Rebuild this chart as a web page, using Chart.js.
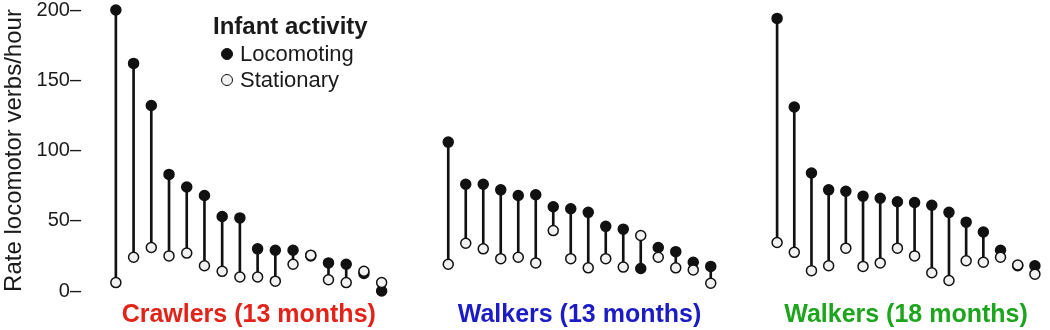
<!DOCTYPE html>
<html>
<head>
<meta charset="utf-8">
<script src="https://cdn.jsdelivr.net/npm/chart.js@4/dist/chart.umd.min.js"></script>
<style>
    body { margin: 0; background: #fff; }
    #wrap { position: relative; width: 1050px; height: 330px; font-family: 'Liberation Sans', Arial, sans-serif; color: #1a1a1a; }
    .panel { position: absolute; top: 0; height: 330px; }
    .legend { position: absolute; left: 213px; top: 11px; }
    .legend-title { font-weight: bold; font-size: 24px; line-height: 30px; }
    .legend-item { position: relative; font-size: 22px; line-height: 26px; padding-left: 27px; }
    .legend-item .dot { position: absolute; left: 8px; top: 7px; width: 10px; height: 10px; border-radius: 50%; border: 1.5px solid #111; }
</style>
</head>
<body>
<div id="wrap">
    <div class="panel" style="left:0;width:397px"><canvas id="chart-crawlers13"></canvas></div>
    <div class="panel" style="left:433px;width:293px"><canvas id="chart-walkers13"></canvas></div>
    <div class="panel" style="left:762px;width:288px"><canvas id="chart-walkers18"></canvas></div>
    <div class="legend">
        <div class="legend-title">Infant activity</div>
        <div class="legend-item"><span class="dot" style="background:#111"></span>Locomoting</div>
        <div class="legend-item"><span class="dot" style="background:#f2f2f2"></span>Stationary</div>
    </div>
</div>
<script>
// Data (rate of locomotor verbs per hour, one entry per infant)
const infants = ['1', '2', '3', '4', '5', '6', '7', '8', '9', '10', '11', '12', '13', '14', '15', '16'];
const yTicks = [0, 50, 100, 150, 200];

const crawlers13Loco = [200, 162, 132, 83, 74, 68, 53, 52, 30, 29, 29, 25, 20, 19, 12.5, 0];
const crawlers13Stat = [6, 24, 31, 25, 27, 18, 14, 10, 10, 7, 19, 25.5, 8, 6, 14, 6];

const walkers13Loco = [106, 76, 76, 72, 68, 68.5, 60, 58.5, 56, 46, 44, 16, 31, 28, 20.5, 17.5];
const walkers13Stat = [19, 34, 30, 23, 24, 20, 43, 23, 16.5, 23, 17, 39.5, 24, 16.5, 15, 5.5];

const walkers18Loco = [194, 131, 84, 72, 71, 67.5, 66, 63.5, 63, 61, 56, 49, 42, 29, 18, 18];
const walkers18Stat = [34.5, 27.5, 14.5, 18, 30.5, 17.5, 20, 30.5, 25, 13, 7.5, 21.5, 20.5, 24, 18.5, 12];

const panelTitles = ['Crawlers (13 months)', 'Walkers (13 months)', 'Walkers (18 months)'];
const panelColors = ['#e2231a', '#1c1cc4', '#1ea51e'];

const fontFamily = "'Liberation Sans', Arial, sans-serif";

// Build one dumbbell panel
function createPanel(canvasId, loco, stat, title, color, showYAxis) {
    const ctx = document.getElementById(canvasId);

    return new Chart(ctx, {
        data: {
            labels: infants,
            datasets: [
                {
                    type: 'line',
                    label: 'Stationary',
                    data: stat,
                    showLine: false,
                    pointRadius: 5,
                    pointHoverRadius: 5,
                    pointBackgroundColor: '#f2f2f2',
                    pointBorderColor: '#111',
                    pointBorderWidth: 1.5,
                    clip: false
                },
                {
                    type: 'line',
                    label: 'Locomoting',
                    data: loco,
                    showLine: false,
                    pointRadius: 5,
                    pointHoverRadius: 5,
                    pointBackgroundColor: '#111',
                    pointBorderColor: '#111',
                    pointBorderWidth: 1.5,
                    clip: false
                },
                {
                    type: 'bar',
                    label: 'range',
                    data: loco.map((l, i) => [Math.min(l, stat[i]), Math.max(l, stat[i])]),
                    backgroundColor: '#111',
                    barThickness: 2,
                    clip: false
                }
            ]
        },
        options: {
            responsive: true,
            maintainAspectRatio: false,
            animation: false,
            layout: {
                padding: { top: 10, bottom: 0, left: 0, right: 0 }
            },
            plugins: {
                legend: { display: false },
                tooltip: { enabled: false }
            },
            scales: {
                x: {
                    display: true,
                    offset: true,
                    grid: { display: false, drawTicks: false },
                    border: { display: false },
                    ticks: { display: false },
                    title: {
                        display: true,
                        text: title,
                        color: color,
                        font: { family: fontFamily, size: 25, weight: 'bold' },
                        padding: { top: 9, bottom: 0 }
                    }
                },
                y: {
                    display: showYAxis,
                    min: 0,
                    max: 200,
                    afterBuildTicks: (scale) => {
                        scale.ticks = yTicks.map(v => ({ value: v }));
                    },
                    afterFit: (scale) => {
                        if (showYAxis) scale.width = 107;
                        // keep the plot top at the layout padding
                        scale.paddingTop = 0;
                        scale.paddingBottom = 0;
                    },
                    grid: { display: false, drawTicks: false },
                    border: { display: false },
                    ticks: {
                        padding: 26,
                        color: '#1a1a1a',
                        font: { family: fontFamily, size: 20 },
                        callback: (value) => value + '\u2013'
                    },
                    title: {
                        display: showYAxis,
                        text: 'Rate locomotor verbs/hour',
                        color: '#1a1a1a',
                        font: { family: fontFamily, size: 24 },
                        padding: { top: 0, bottom: 0 }
                    }
                }
            }
        }
    });
}

createPanel('chart-crawlers13', crawlers13Loco, crawlers13Stat, panelTitles[0], panelColors[0], true);
createPanel('chart-walkers13', walkers13Loco, walkers13Stat, panelTitles[1], panelColors[1], false);
createPanel('chart-walkers18', walkers18Loco, walkers18Stat, panelTitles[2], panelColors[2], false);
</script>
</body>
</html>
